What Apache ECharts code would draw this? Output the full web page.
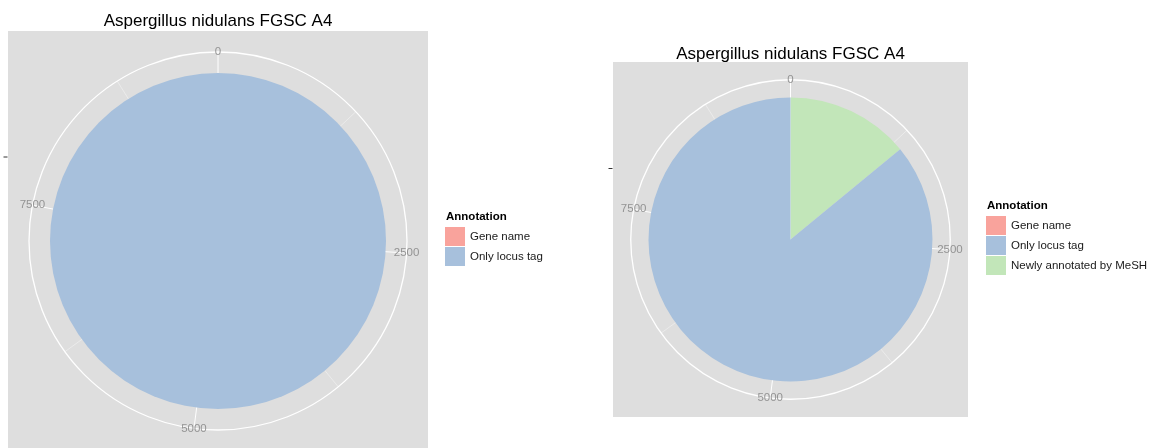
<!DOCTYPE html>
<html><head><meta charset="utf-8">
<script src="https://cdn.jsdelivr.net/npm/echarts@6/dist/echarts.min.js"></script>
<style>html,body{margin:0;padding:0;background:#fff}#c{width:1161px;height:448px}</style>
</head><body><div id="c"></div>
<script>
// ---- data ----
const chartTitle = 'Aspergillus nidulans FGSC A4';
const legendTitle = 'Annotation';
const leftCategories = ['Gene name', 'Only locus tag'];
const leftValues = [0, 9610];
const rightCategories = ['Gene name', 'Only locus tag', 'Newly annotated by MeSH'];
const rightValues = [0, 8260, 1350];
const tickValues = [0, 2500, 5000, 7500];
const minorStep = 1250;

// ---- styles / layout ----
const FONT = '"Liberation Sans", Arial, Helvetica, sans-serif';
const palette = {'Gene name': '#F9A39C', 'Only locus tag': '#A7C0DC', 'Newly annotated by MeSH': '#C2E6B9'};
const panels = [
  {x: 8, y: 31, size: 420, titleY: 21, legendX: 445, legendY: 227, legendTitleY: 217, cats: leftCategories, vals: leftValues},
  {x: 613, y: 62, size: 355, titleY: 54, legendX: 986, legendY: 216, legendTitleY: 206, cats: rightCategories, vals: rightValues}
];

const polar = [], angleAxis = [], radiusAxis = [], series = [], legend = [], graphic = [];
panels.forEach((p, k) => {
  const cx = p.x + p.size / 2, cy = p.y + p.size / 2;
  const outer = p.size * 0.45, pieR = p.size * 0.4;
  const total = p.vals.reduce((a, b) => a + b, 0);
  const oi = polar.length;
  polar.push({center: [cx, cy], radius: outer});
  polar.push({center: [cx, cy], radius: pieR});
  angleAxis.push({
    polarIndex: oi, type: 'value', min: 0, max: total, interval: minorStep, startAngle: 90, clockwise: true,
    axisLine: {show: true, lineStyle: {color: '#ffffff', width: 1.3}},
    axisTick: {show: false}, axisLabel: {show: false},
    splitLine: {show: true, lineStyle: {color: ['#ffffff', 'rgba(255,255,255,0.38)'], width: 1}}
  });
  angleAxis.push({polarIndex: oi + 1, type: 'value', min: 0, max: total, startAngle: 90, clockwise: true, show: false,
    axisLine: {show: false}, splitLine: {show: false}, axisLabel: {show: false}, axisTick: {show: false}});
  radiusAxis.push({polarIndex: oi, type: 'value', min: 0, max: 1, show: false,
    axisLine: {show: false}, splitLine: {show: false}, axisLabel: {show: false}, axisTick: {show: false}});
  radiusAxis.push({polarIndex: oi + 1, type: 'category', data: [''], show: false,
    axisLine: {show: false}, splitLine: {show: false}, axisLabel: {show: false}, axisTick: {show: false}});
  // stacked bars: last category sits at angle 0 (ggplot stacking order)
  for (let i = p.cats.length - 1; i >= 0; i--) {
    series.push({
      type: 'bar', coordinateSystem: 'polar', polarIndex: oi + 1, name: p.cats[i], stack: 'pie' + k,
      data: [p.vals[i]], barWidth: '100%', itemStyle: {color: palette[p.cats[i]]}, silent: true
    });
  }
  // angle-axis tick labels centred on the outer circle
  series.push({
    type: 'scatter', coordinateSystem: 'polar', polarIndex: oi, silent: true, symbolSize: 1,
    itemStyle: {color: 'rgba(0,0,0,0)'},
    data: tickValues.map(v => [1, v]),
    label: {show: true, position: 'inside', formatter: q => String(q.value[1]), color: '#7f7f7f', fontSize: 11.5, fontFamily: FONT}
  });
  legend.push({
    data: p.cats, orient: 'vertical', left: p.legendX, top: p.legendY, itemWidth: 20, itemHeight: 19, itemGap: 1,
    icon: 'rect', selectedMode: false, padding: 0,
    textStyle: {fontSize: 11.5, color: '#1a1a1a', fontFamily: FONT}
  });
  graphic.push({type: 'rect', z: -10, shape: {x: p.x, y: p.y, width: p.size, height: p.size}, style: {fill: '#dedede'}, silent: true});
  graphic.push({type: 'text', style: {text: chartTitle, x: cx, y: p.titleY, textAlign: 'center', textVerticalAlign: 'middle',
    font: '17px ' + FONT, fill: '#000'}, silent: true});
  graphic.push({type: 'text', style: {text: legendTitle, x: p.legendX + 1, y: p.legendTitleY, textAlign: 'left', textVerticalAlign: 'middle',
    font: 'bold 11.5px ' + FONT, fill: '#000'}, silent: true});
  graphic.push({type: 'line', shape: {x1: p.x - 4.5, y1: cy - pieR / 2, x2: p.x - 0.5, y2: cy - pieR / 2},
    style: {stroke: '#333', lineWidth: 1}, silent: true});
});

const chart = echarts.init(document.getElementById('c'), null, {renderer: 'canvas'});
chart.setOption({
  animation: false,
  backgroundColor: '#ffffff',
  polar, angleAxis, radiusAxis, series, legend, graphic
});
</script></body></html>
